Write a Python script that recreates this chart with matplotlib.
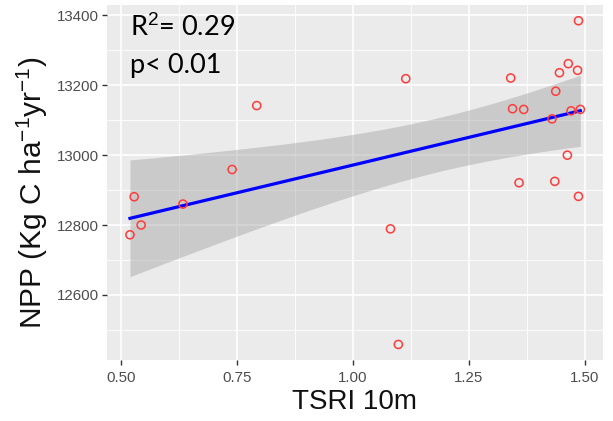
import numpy as np
import matplotlib
matplotlib.use("Agg")
import matplotlib.pyplot as plt

plt.rcParams['font.family'] = ['Liberation Sans', 'DejaVu Sans']
plt.rcParams['mathtext.fontset'] = 'custom'
plt.rcParams['mathtext.rm'] = 'Liberation Sans'
plt.rcParams['mathtext.it'] = 'Liberation Sans:italic'

# data
tsri = [0.793, 0.740, 0.529, 0.634, 0.544, 0.520,
        1.486, 1.114, 1.340, 1.464, 1.445, 1.484, 1.437, 1.344, 1.368,
        1.470, 1.490, 1.429, 1.462, 1.358, 1.435, 1.486, 1.081, 1.098]
npp = [13142, 12959, 12881, 12860, 12800, 12772,
       13385, 13219, 13221, 13262, 13236, 13243, 13183, 13133, 13131,
       13127, 13131, 13104, 13000, 12921, 12925, 12882, 12789, 12458]
xticks = [0.50, 0.75, 1.00, 1.25, 1.50]
xticklabels = ["0.50", "0.75", "1.00", "1.25", "1.50"]
yticks = [12600, 12800, 13000, 13200, 13400]
annot_r2 = "0.29"
annot_p = "0.01"

x = np.array(tsri)
y = np.array(npp)
n = len(x)
b1, b0 = np.polyfit(x, y, 1)
xs = np.linspace(x.min(), x.max(), 80)
yhat = b0 + b1 * xs
resid = y - (b0 + b1 * x)
s = np.sqrt(np.sum(resid**2) / (n - 2))
sxx = np.sum((x - x.mean())**2)
tval = 2.074  # t(0.975, df=22)
se = s * np.sqrt(1.0 / n + (xs - x.mean())**2 / sxx)

fig = plt.figure(figsize=(6.13, 4.21), dpi=100)
ax = fig.add_axes([107/613, 1 - 360/421, (603-107)/613, (360-5)/421])
ax.set_facecolor('#EBEBEB')
for sp in ax.spines.values():
    sp.set_visible(False)

ax.set_xlim(0.4705, 1.5388)
ax.set_ylim(12413.5, 13430)
ax.set_xticks(xticks)
ax.set_xticklabels(xticklabels)
ax.set_yticks(yticks)
ax.set_xticks([0.625, 0.875, 1.125, 1.375], minor=True)
ax.set_yticks([12500, 12700, 12900, 13100, 13300], minor=True)
ax.grid(True, which='major', color='white', lw=1.2)
ax.grid(True, which='minor', color='white', lw=0.6)
ax.set_axisbelow(True)
ax.tick_params(which='major', length=3.5, width=1, color='#333333',
               labelcolor='#4D4D4D', labelsize=10.8)
ax.tick_params(axis='x', which='major', pad=4.5)
ax.tick_params(axis='y', which='major', pad=2)
ax.tick_params(which='minor', length=0)

ax.fill_between(xs, yhat - tval * se, yhat + tval * se, color='#999999',
                alpha=0.4, lw=0, zorder=2)
ax.plot(xs, yhat, color='#0000FF', lw=2.3, zorder=3)
ax.scatter(x, y, s=34, facecolors='none', edgecolors='#FF3B3B', linewidths=1.1,
           zorder=4)

ax.set_xlabel("TSRI 10m", fontsize=20, color='#111111', labelpad=3)
ax.set_ylabel("NPP (Kg C ha$^{-1}$yr$^{-1}$)", fontsize=21.5, color='#111111',
              labelpad=5)

fig.text(130/613, 1 - 36/421, "R$^{2}$= " + annot_r2, fontsize=19.5,
         family=['Lato', 'DejaVu Sans'], va='baseline', ha='left', color='black')
fig.text(130/613, 1 - 73/421, "p< " + annot_p, fontsize=19.5,
         family=['Lato', 'DejaVu Sans'], va='baseline', ha='left', color='black')

# shift the y label slightly downward, keeping its horizontal position
fig.canvas.draw()
lx_disp, _ = ax.yaxis.label.get_position()
lx_axes = ax.transAxes.inverted().transform((lx_disp, 0))[0]
ax.yaxis.set_label_coords(lx_axes, 0.47)

fig.savefig("out.png", dpi=100)
